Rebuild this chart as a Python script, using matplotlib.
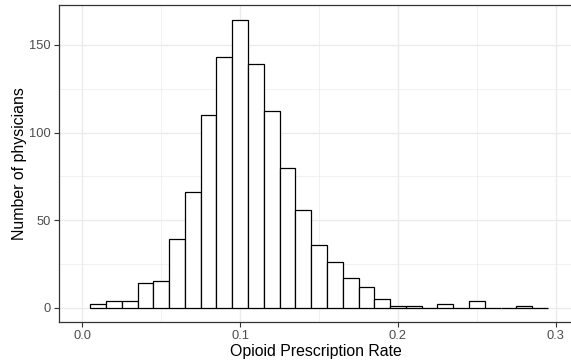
import matplotlib
matplotlib.use("Agg")
import matplotlib.pyplot as plt
import numpy as np

# Histogram data (bin width 0.01)
bin_centers = [0.01, 0.02, 0.03, 0.04, 0.05, 0.06, 0.07, 0.08, 0.09, 0.10,
               0.11, 0.12, 0.13, 0.14, 0.15, 0.16, 0.17, 0.18, 0.19, 0.20,
               0.21, 0.22, 0.23, 0.24, 0.25, 0.26, 0.27, 0.28, 0.29]
counts = [2, 4, 4, 14, 15, 39, 66, 110, 143, 164,
          139, 112, 80, 56, 36, 26, 17, 12, 5, 1,
          1, 0, 2, 0, 4, 0, 0, 1, 0]
bin_width = 0.01
x_ticks = [0.0, 0.1, 0.2, 0.3]
x_ticklabels = ["0.0", "0.1", "0.2", "0.3"]
y_ticks = [0, 50, 100, 150]
x_label = "Opioid Prescription Rate"
y_label = "Number of physicians"

plt.rcParams['font.family'] = ['Liberation Sans', 'DejaVu Sans']

fig = plt.figure(figsize=(5.71, 3.61), dpi=100)
W, H = 571, 361
ax = fig.add_axes([59 / W, 1 - 322 / H, (573 - 59) / W, (322 - 5) / H])

ax.bar(bin_centers, counts, width=bin_width, color="white",
       edgecolor="black", linewidth=0.9, zorder=3)

px = 0.1 / 157.8
ax.set_xlim(-0.0148, -0.0148 + (573 - 59) * px)
ax.set_ylim(-8.2, 172.8)

ax.set_xticks(x_ticks)
ax.set_xticklabels(x_ticklabels)
ax.set_yticks(y_ticks)
ax.set_xticks([0.05, 0.15, 0.25], minor=True)
ax.set_yticks([25, 75, 125], minor=True)

ax.grid(True, which="major", color="#EBEBEB", linewidth=1.0, zorder=0)
ax.grid(True, which="minor", color="#EBEBEB", linewidth=0.5, zorder=0)
ax.set_axisbelow(True)

for s in ax.spines.values():
    s.set_color("#333333")
    s.set_linewidth(0.9)

ax.tick_params(which="major", length=3.5, width=0.8, color="#333333",
               labelsize=9.3, labelcolor="#4D4D4D", pad=2.5)
ax.tick_params(which="minor", length=0)

ax.set_xlabel(x_label, fontsize=11.4, color="black", labelpad=1.5)
ax.set_ylabel(y_label, fontsize=11.4, color="black", labelpad=1.5)

fig.savefig("out.png", dpi=100)
